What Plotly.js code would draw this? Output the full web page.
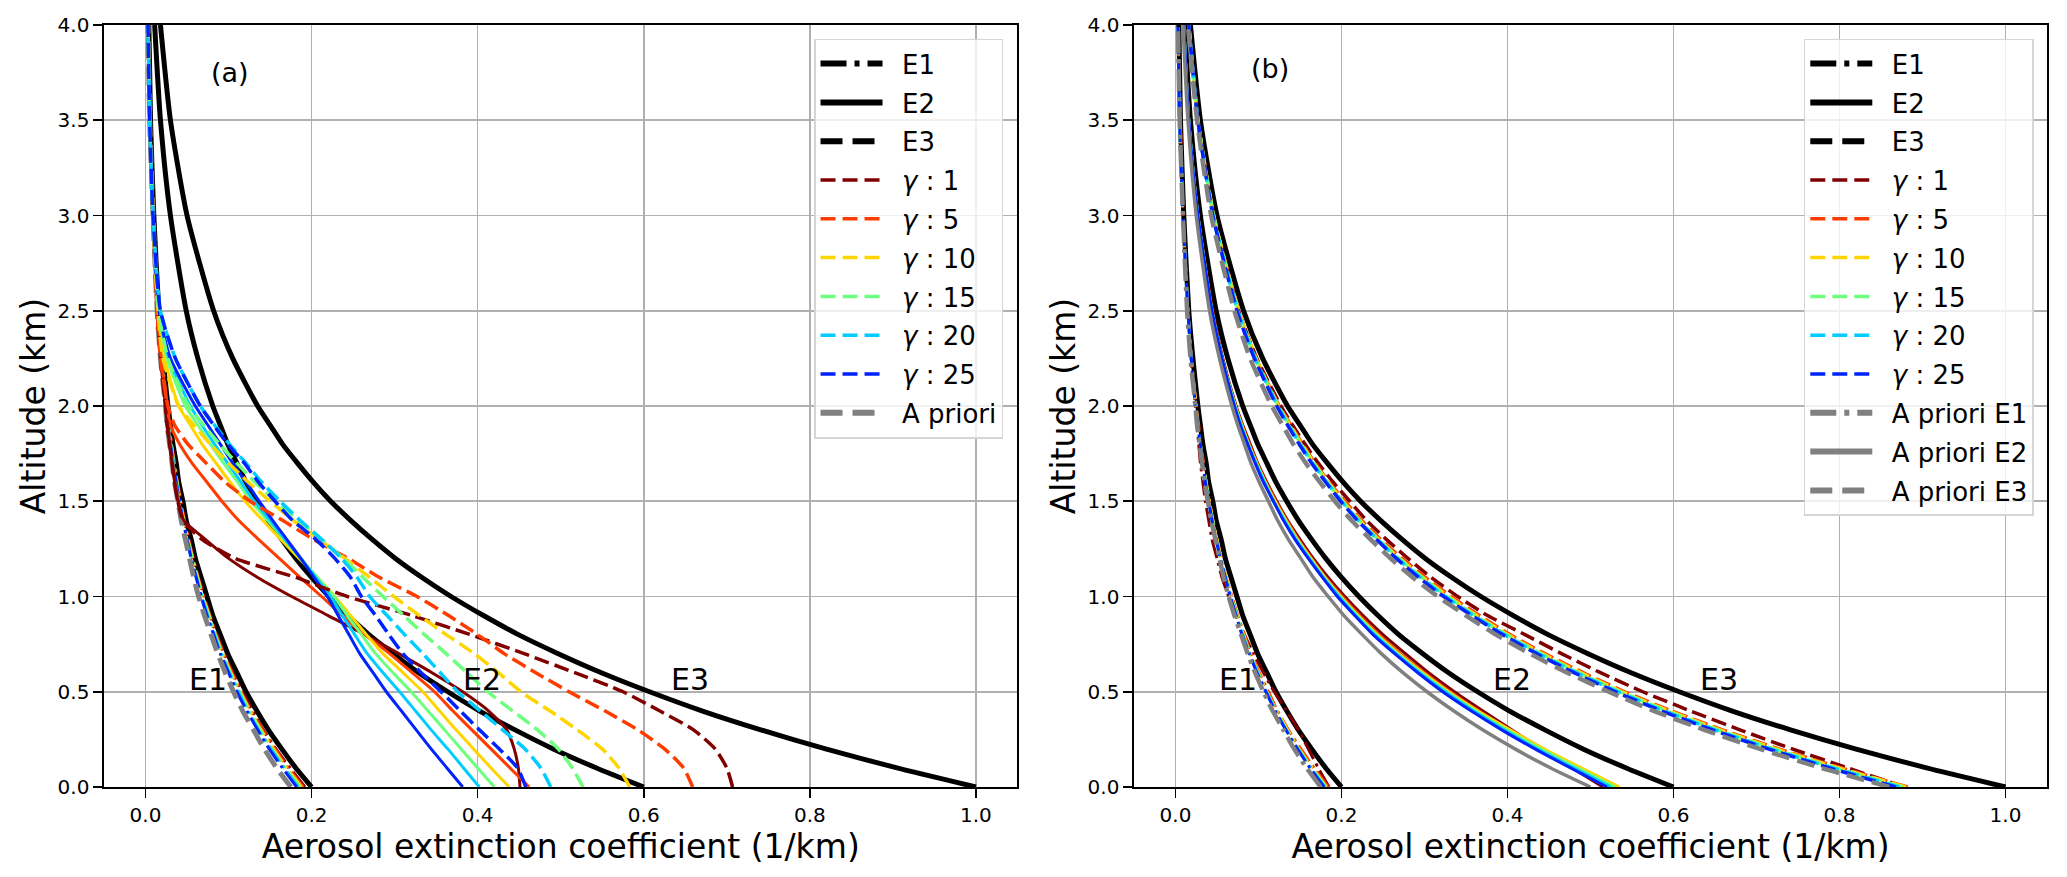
<!DOCTYPE html>
<html>
<head>
<meta charset="utf-8">
<script src="https://cdn.plot.ly/plotly-3.0.1.min.js"></script>
<style>
  html, body { margin: 0; padding: 0; background: white; }
  #myDiv { width: 2067px; height: 877px; }
</style>
</head>
<body>
<div id="myDiv"></div>
<script>
// altitude grid (km) shared by every profile
const altitude = [0, 0.1, 0.2, 0.3, 0.4, 0.5, 0.6, 0.7, 0.8, 0.9, 1.0, 1.1, 1.2, 1.3, 1.4, 1.5, 1.6, 1.7, 1.8, 1.9, 2.0, 2.25, 2.5, 3.0, 3.5, 4.0];

// true profiles (black)
const trueE1 = [.200,.181,.164,.148,.134,.121,.110,.099,.090,.081,.074,.067,.060,.055,.049,.045,.040,.037,.033,.030,.027,.021,.016,.010,.006,.004];
const trueE2 = [.600,.543,.491,.445,.402,.364,.329,.298,.269,.244,.221,.200,.181,.164,.148,.134,.121,.110,.099,.090,.081,.063,.049,.030,.018,.011];
const trueE3 = [1.000,.905,.819,.741,.670,.607,.549,.497,.449,.407,.368,.333,.301,.273,.247,.223,.202,.183,.165,.150,.135,.105,.082,.050,.030,.018];

// a priori profiles (grey)
const prioriE1 = [.175,.158,.143,.130,.117,.106,.096,.087,.079,.071,.064,.058,.053,.048,.043,.039,.035,.032,.029,.026,.024,.018,.014,.009,.005,.003];
const prioriE2 = [.500,.452,.409,.370,.335,.303,.274,.248,.225,.203,.184,.166,.151,.136,.123,.112,.101,.091,.083,.075,.068,.053,.041,.025,.015,.009];
const prioriE3 = [.860,.778,.704,.637,.576,.522,.472,.427,.386,.350,.316,.286,.259,.235,.212,.192,.174,.157,.142,.129,.116,.090,.071,.043,.026,.015];

const gammas = [1, 5, 10, 15, 20, 25];
const gammaColors = ["#800000", "#ff3c00", "#ffd500", "#6dff7e", "#00ccff", "#0022ff"];

// panel (a): single a priori
const a_E1_g1  = [.192,.174,.157,.142,.129,.117,.105,.095,.086,.078,.071,.064,.058,.052,.047,.043,.039,.035,.032,.029,.026,.020,.016,.009,.005,.003];
const a_E1_g5  = [.190,.172,.156,.141,.127,.115,.104,.094,.085,.077,.070,.063,.057,.052,.047,.042,.038,.035,.031,.028,.026,.020,.015,.009,.005,.003];
const a_E1_g10 = [.188,.170,.154,.139,.126,.114,.103,.093,.084,.077,.069,.063,.057,.051,.046,.042,.038,.034,.031,.028,.025,.019,.015,.009,.005,.003];
const a_E1_g15 = [.186,.168,.152,.138,.125,.113,.102,.092,.084,.076,.068,.062,.056,.051,.046,.041,.038,.034,.031,.028,.025,.019,.015,.009,.005,.003];
const a_E1_g20 = [.184,.167,.151,.136,.123,.112,.101,.091,.083,.075,.068,.061,.055,.050,.045,.041,.037,.034,.030,.028,.025,.019,.015,.009,.005,.003];
const a_E1_g25 = [.182,.165,.149,.135,.122,.110,.100,.090,.082,.074,.067,.061,.055,.050,.045,.041,.037,.033,.030,.027,.025,.019,.015,.009,.005,.003];

const a_E2_g1  = [.451,.449,.444,.435,.413,.382,.345,.305,.264,.220,.176,.135,.100,.072,.046,.039,.035,.032,.029,.026,.024,.018,.014,.009,.005,.003];
const a_E2_g5  = [.462,.439,.416,.393,.370,.348,.321,.294,.264,.237,.212,.186,.161,.136,.112,.092,.074,.056,.041,.030,.026,.019,.014,.009,.005,.003];
const a_E2_g10 = [.438,.416,.395,.374,.354,.334,.310,.286,.266,.247,.228,.207,.185,.163,.141,.120,.102,.085,.068,.054,.040,.023,.015,.009,.005,.003];
const a_E2_g15 = [.420,.400,.380,.360,.340,.320,.298,.277,.260,.243,.227,.207,.187,.167,.147,.127,.111,.094,.078,.063,.048,.026,.016,.009,.005,.003];
const a_E2_g20 = [.402,.383,.364,.344,.325,.306,.286,.267,.252,.237,.223,.205,.187,.168,.150,.131,.115,.099,.083,.068,.054,.028,.016,.009,.005,.003];
const a_E2_g25 = [.382,.363,.344,.326,.308,.290,.274,.258,.245,.232,.219,.203,.187,.170,.153,.137,.121,.105,.090,.075,.060,.030,.016,.009,.005,.003];

const a_E3_g1  = [.707,.700,.686,.660,.619,.575,.517,.456,.391,.321,.243,.181,.108,.068,.045,.039,.035,.032,.029,.026,.024,.018,.014,.009,.005,.003];
const a_E3_g5  = [.659,.648,.625,.593,.553,.510,.470,.432,.400,.365,.327,.282,.244,.202,.165,.126,.096,.073,.051,.035,.027,.018,.014,.009,.005,.003];
const a_E3_g10 = [.583,.570,.550,.520,.487,.452,.425,.396,.362,.330,.299,.270,.240,.209,.178,.150,.124,.100,.078,.058,.040,.021,.015,.009,.005,.003];
const a_E3_g15 = [.527,.514,.497,.472,.442,.412,.387,.362,.336,.311,.286,.262,.238,.212,.184,.157,.132,.110,.089,.070,.052,.027,.016,.009,.005,.003];
const a_E3_g20 = [.488,.476,.457,.430,.403,.376,.355,.334,.312,.291,.270,.255,.236,.212,.186,.162,.140,.121,.101,.083,.066,.036,.018,.009,.005,.003];
const a_E3_g25 = [.458,.448,.426,.402,.379,.356,.332,.310,.293,.277,.260,.247,.228,.205,.177,.156,.136,.119,.099,.082,.066,.036,.018,.009,.005,.003];

// panel (b): a priori per experiment
const b_E1_g1  = [.185,.172,.160,.148,.134,.119,.106,.094,.083,.073,.064,.056,.050,.044,.040,.036,.033,.030,.028,.026,.024,.019,.015,.009,.005,.003];
const b_E1_g5  = [.184,.167,.151,.136,.123,.112,.101,.091,.083,.075,.068,.061,.055,.050,.045,.041,.037,.034,.030,.028,.025,.019,.015,.009,.006,.003];
const b_E1_g10 = [.182,.165,.149,.135,.122,.110,.100,.090,.082,.074,.067,.061,.055,.050,.045,.041,.037,.033,.030,.027,.025,.019,.015,.009,.005,.003];
const b_E1_g15 = [.181,.164,.148,.134,.121,.110,.099,.090,.081,.074,.067,.060,.054,.049,.045,.040,.037,.033,.030,.027,.024,.019,.015,.009,.005,.003];
const b_E1_g20 = [.180,.163,.147,.133,.121,.109,.099,.089,.081,.073,.066,.060,.054,.049,.044,.040,.036,.033,.030,.027,.024,.019,.015,.009,.005,.003];
const b_E1_g25 = [.179,.162,.147,.133,.120,.109,.098,.089,.080,.073,.066,.060,.054,.049,.044,.040,.036,.033,.030,.027,.024,.019,.015,.009,.005,.003];

const b_E2_g1  = [.515,.478,.440,.405,.370,.336,.305,.277,.250,.226,.204,.184,.166,.150,.135,.122,.110,.099,.090,.081,.073,.057,.045,.027,.016,.010];
const b_E2_g5  = [.530,.486,.443,.403,.365,.331,.300,.271,.245,.222,.201,.181,.164,.148,.134,.121,.109,.098,.089,.080,.072,.056,.044,.027,.016,.010];
const b_E2_g10 = [.535,.489,.444,.403,.364,.329,.298,.269,.243,.220,.199,.180,.163,.147,.133,.120,.108,.098,.088,.080,.072,.056,.044,.027,.016,.010];
const b_E2_g15 = [.530,.484,.440,.399,.361,.327,.296,.267,.242,.219,.198,.179,.162,.146,.132,.119,.108,.097,.088,.079,.072,.056,.044,.027,.016,.010];
const b_E2_g20 = [.525,.480,.436,.396,.359,.325,.294,.266,.240,.217,.197,.178,.161,.145,.131,.118,.107,.097,.087,.079,.071,.056,.044,.027,.016,.010];
const b_E2_g25 = [.520,.476,.433,.393,.356,.322,.292,.264,.238,.216,.195,.177,.160,.144,.130,.118,.106,.096,.087,.078,.071,.056,.044,.027,.016,.010];

const b_E3_g1  = [.878,.810,.743,.680,.620,.563,.512,.465,.421,.376,.340,.308,.280,.254,.230,.210,.190,.172,.156,.141,.127,.098,.076,.046,.027,.016];
const b_E3_g5  = [.882,.802,.727,.659,.597,.541,.491,.445,.403,.366,.332,.301,.273,.247,.224,.204,.185,.168,.153,.139,.125,.097,.076,.046,.027,.016];
const b_E3_g10 = [.880,.799,.724,.656,.594,.538,.488,.442,.400,.363,.329,.298,.270,.245,.222,.202,.184,.167,.152,.138,.124,.097,.076,.046,.027,.016];
const b_E3_g15 = [.876,.795,.720,.653,.591,.536,.485,.440,.398,.361,.327,.297,.269,.244,.221,.201,.183,.166,.151,.137,.124,.096,.075,.046,.027,.016];
const b_E3_g20 = [.872,.792,.717,.650,.588,.533,.483,.437,.396,.359,.325,.295,.267,.243,.220,.200,.182,.165,.150,.136,.123,.096,.075,.045,.027,.016];
const b_E3_g25 = [.868,.788,.714,.647,.585,.530,.480,.435,.394,.357,.323,.293,.266,.242,.219,.199,.181,.164,.149,.135,.122,.095,.074,.045,.027,.016];

const retrA = {
    E1: [a_E1_g1, a_E1_g5, a_E1_g10, a_E1_g15, a_E1_g20, a_E1_g25],
    E2: [a_E2_g1, a_E2_g5, a_E2_g10, a_E2_g15, a_E2_g20, a_E2_g25],
    E3: [a_E3_g1, a_E3_g5, a_E3_g10, a_E3_g15, a_E3_g20, a_E3_g25],
};
const retrB = {
    E1: [b_E1_g1, b_E1_g5, b_E1_g10, b_E1_g15, b_E1_g20, b_E1_g25],
    E2: [b_E2_g1, b_E2_g5, b_E2_g10, b_E2_g15, b_E2_g20, b_E2_g25],
    E3: [b_E3_g1, b_E3_g5, b_E3_g10, b_E3_g15, b_E3_g20, b_E3_g25],
};

const FONT = "DejaVu Sans, Verdana, sans-serif";
const GREY = "#808080";
// invisible spacer so the legend text sits away from its line sample
const PAD = '<span style="color:rgba(0,0,0,0)">ii</span>';

// line styles per experiment for retrievals
const retrDash = { E1: "19px,5px,3px,5px", E2: "solid", E3: "15px,6px" };
const retrWidth = { E1: 3, E2: 3, E3: 3.5 };

function profile(x, ax, color, width, dash) {
    return {
        type: "scatter",
        mode: "lines",
        x: x,
        y: altitude,
        xaxis: "x" + ax,
        yaxis: "y" + ax,
        line: { color: color, width: width, dash: dash, shape: "spline", smoothing: 0.6 },
        showlegend: false,
        hoverinfo: "skip",
    };
}

// legend-only entries (no marks drawn)
function legendItem(name, color, width, dash, legend) {
    return {
        type: "scatter",
        mode: "lines",
        x: [null],
        y: [null],
        name: PAD + name,
        legend: legend,
        legendgroup: legend + name,
        line: { color: color, width: width, dash: dash },
        hoverinfo: "skip",
    };
}

const data = [];
const truth = { E1: trueE1, E2: trueE2, E3: trueE3 };

// panel (a)
["E1", "E2", "E3"].forEach((e) => {
    data.push(profile(truth[e], "", "black", 5, "solid"));
    retrA[e].forEach((vals, i) => {
        data.push(profile(vals, "", gammaColors[i], retrWidth[e], retrDash[e]));
    });
    if (e === "E1") data.push(profile(prioriE1, "", GREY, 5, "18px,8px"));
});

// panel (b)
const priorB = { E1: [prioriE1, "22px,6px,4px,6px"], E2: [prioriE2, "solid"], E3: [prioriE3, "18px,8px"] };
["E1", "E2", "E3"].forEach((e) => {
    data.push(profile(truth[e], "2", "black", 5, "solid"));
    retrB[e].forEach((vals, i) => {
        data.push(profile(vals, "2", gammaColors[i], retrWidth[e], retrDash[e]));
    });
    data.push(profile(priorB[e][0], "2", GREY, e === "E2" ? 3.5 : 4.5, priorB[e][1]));
});

// legends
const gammaNames = gammas.map((g) => "<i>γ</i> : " + g);
["legend", "legend2"].forEach((lg) => {
    data.push(legendItem("E1", "black", 6, "26px,8px,5px,8px", lg));
    data.push(legendItem("E2", "black", 6, "solid", lg));
    data.push(legendItem("E3", "black", 6, "22px,10px", lg));
    gammas.forEach((g, i) => {
        data.push(legendItem(gammaNames[i], gammaColors[i], 3.5, "15px,7px", lg));
    });
});
data.push(legendItem("A priori", GREY, 6, "22px,10px", "legend"));
data.push(legendItem("A priori E1", GREY, 6, "26px,8px,5px,8px", "legend2"));
data.push(legendItem("A priori E2", GREY, 6, "solid", "legend2"));
data.push(legendItem("A priori E3", GREY, 6, "22px,10px", "legend2"));

const axisX = {
    range: [-0.05, 1.05],
    dtick: 0.2,
    tick0: 0,
    tickformat: ".1f",
    showgrid: true,
    gridcolor: "#b0b0b0",
    gridwidth: 1.6,
    zeroline: false,
    showline: true,
    linecolor: "black",
    linewidth: 1.6,
    mirror: true,
    ticks: "outside",
    ticklen: 9,
    tickwidth: 1.6,
    tickcolor: "black",
    tickfont: { family: FONT, size: 20, color: "black" },
    title: { text: "Aerosol extinction coefficient (1/km)", font: { family: FONT, size: 33, color: "black" }, standoff: 7 },
};
const axisY = {
    range: [0, 4],
    dtick: 0.5,
    tick0: 0,
    tickformat: ".1f",
    showgrid: true,
    gridcolor: "#b0b0b0",
    gridwidth: 1.6,
    zeroline: false,
    showline: true,
    linecolor: "black",
    linewidth: 1.6,
    mirror: true,
    ticks: "outside",
    ticklen: 9,
    tickwidth: 1.6,
    tickcolor: "black",
    tickfont: { family: FONT, size: 20, color: "black" },
    title: { text: "Altitude (km)", font: { family: FONT, size: 33, color: "black" }, standoff: 2 },
};

const legendBase = {
    xanchor: "right",
    yanchor: "top",
    y: 0.982,
    bgcolor: "rgba(255,255,255,0.8)",
    bordercolor: "#d5d5d5",
    borderwidth: 1.5,
    font: { family: FONT, size: 26, color: "black" },
    itemwidth: 62,
    traceorder: "grouped",
    tracegroupgap: 2,
};

function label(text, ax, x, y, size, anchor) {
    return {
        xref: "x" + ax,
        yref: "y" + ax,
        x: x,
        y: y,
        text: text,
        showarrow: false,
        xanchor: anchor,
        yanchor: anchor === "center" ? "middle" : "bottom",
        yshift: anchor === "center" ? 0 : -7,
        font: { family: FONT, size: size, color: "black" },
    };
}

const annotations = [
    label("(a)", "", 0.102, 3.75, 27, "center"),
    label("(b)", "2", 0.114, 3.77, 27, "center"),
];
[["E1", 0.05], ["E2", 0.38], ["E3", 0.63]].forEach(([t, xv]) => {
    annotations.push(label(t, "", xv, 0.5, 30, "left"));
    annotations.push(label(t, "2", xv, 0.5, 30, "left"));
});

const layout = {
    width: 2067,
    height: 877,
    margin: { l: 104, r: 20, t: 25, b: 90 },
    paper_bgcolor: "white",
    plot_bgcolor: "white",
    font: { family: FONT, color: "black" },
    xaxis: Object.assign({}, axisX, { domain: [0, 0.4701], anchor: "y" }),
    yaxis: Object.assign({}, axisY, { domain: [0, 1], anchor: "x" }),
    xaxis2: Object.assign({}, axisX, { domain: [0.5301, 1], anchor: "y2" }),
    yaxis2: Object.assign({}, axisY, { domain: [0, 1], anchor: "x2" }),
    legend: Object.assign({}, legendBase, { x: 0.4627 }),
    legend2: Object.assign({}, legendBase, { x: 0.9932 }),
    annotations: annotations,
    hovermode: false,
};

Plotly.newPlot("myDiv", data, layout, { displayModeBar: false, staticPlot: true });
</script>
</body>
</html>
